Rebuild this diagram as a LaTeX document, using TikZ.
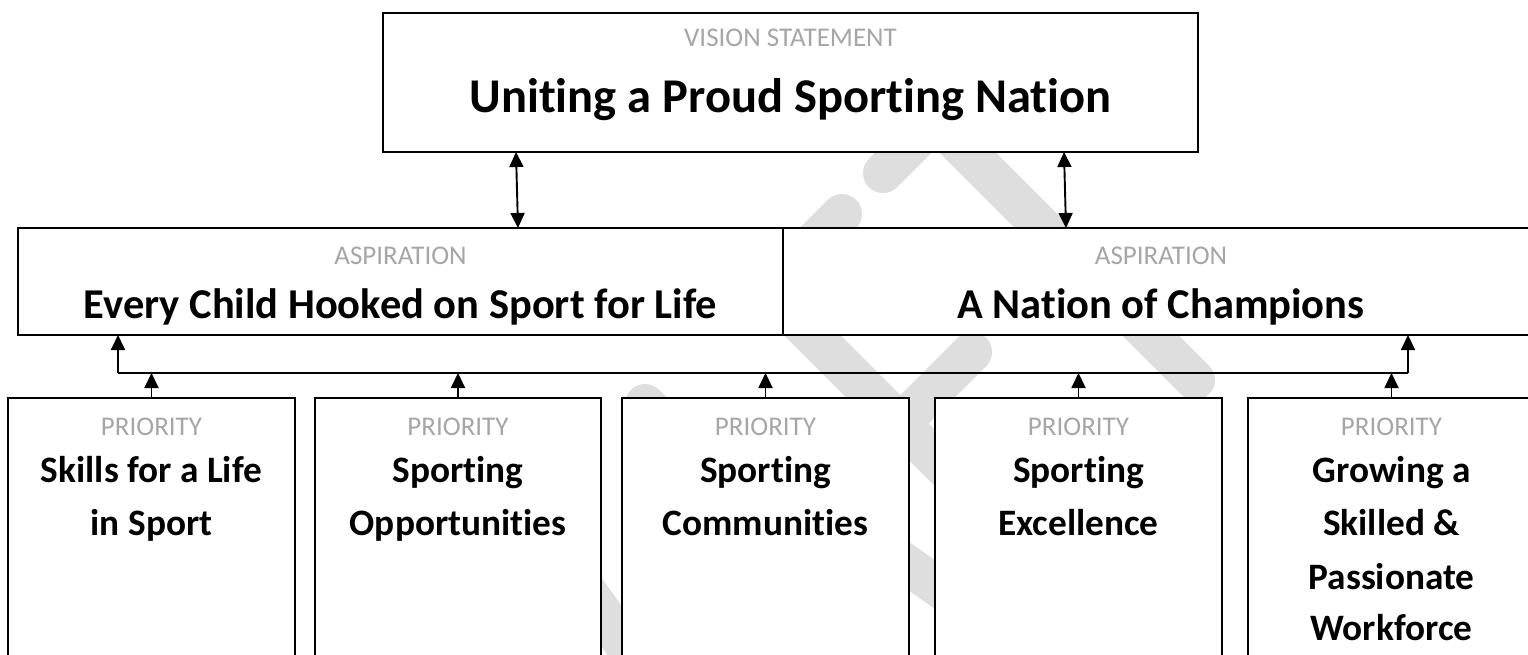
\documentclass[tikz,border=0pt]{standalone}
\usepackage{fontspec}
\setmainfont{Carlito}[Ligatures={NoCommon,NoContextual}]
\usetikzlibrary{arrows.meta,calc}
\definecolor{lblgray}{HTML}{A6A6A6}
\definecolor{wmgray}{HTML}{DEDEDE}
\begin{document}
\begin{tikzpicture}[x=1pt,y=-1pt,
  box/.style={draw=black,line width=1.9pt,fill=white,inner sep=0pt,outer sep=0pt,anchor=north west},
  lbl/.style={text=lblgray,font=\fontsize{27}{32}\selectfont,anchor=base,inner sep=0pt},
  ttl/.style={font=\bfseries\fontsize{48.5}{58}\selectfont,anchor=base,inner sep=0pt},
  asp/.style={font=\bfseries\fontsize{42.5}{50}\selectfont,anchor=base,inner sep=0pt},
  pri/.style={font=\bfseries\fontsize{37.3}{44}\selectfont,anchor=base,inner sep=0pt},
  arr/.style={line width=1.9pt,-{Triangle[length=15pt,width=14pt]}},
  dbl/.style={line width=1.9pt,{Triangle[length=15pt,width=14pt]}-{Triangle[length=15pt,width=14pt]}},
  wm/.style={draw=wmgray,line width=40pt,line cap=round}
]
\useasboundingbox (0,0) rectangle (1528,654);
\fill[white] (0,0) rectangle (1528,654);
% watermark
\draw[wm] (950,135) -- (1195,380);
\draw[wm] (937,119) -- (883,173);
\draw[wm] (770,286) -- (842,214);
\draw[wm] (780,303) -- (1000,523);
\draw[wm] (972,352) -- (850,474);
\draw[wm] (645,404) -- (760,519);
\draw[wm] (540,526) -- (680,722);
\draw[wm] (860,532) -- (1000,630);
% boxes
\node[box,minimum width=815pt,minimum height=139pt] (top) at (383,13) {};
\node[box,minimum width=765pt,minimum height=107pt] (asp1) at (18,228) {};
\node[box,minimum width=757pt,minimum height=107pt] (asp2) at (783,228) {};
\node[box,minimum width=287pt,minimum height=272pt] (p1) at (8,398) {};
\node[box,minimum width=286pt,minimum height=272pt] (p2) at (315,398) {};
\node[box,minimum width=287pt,minimum height=272pt] (p3) at (622,398) {};
\node[box,minimum width=287pt,minimum height=272pt] (p4) at (935,398) {};
\node[box,minimum width=287pt,minimum height=272pt] (p5) at (1248,398) {};
% texts
\node[lbl] (vlbl) at (790.5,46) {VISION STATEMENT};
\node[ttl] (vttl) at (790.5,112) {Uniting a Proud Sporting Nation};
\node[lbl] (a1lbl) at (400.5,264) {ASPIRATION};
\node[asp] (a1ttl) at (400.5,318) {Every Child Hooked on Sport for Life};
\node[lbl] (a2lbl) at (1161,264) {ASPIRATION};
\node[asp] (a2ttl) at (1161,318) {A Nation of Champions};
\node[lbl] (p1lbl) at (151.5,435) {PRIORITY};
\node[pri] (p1l1) at (151.5,482) {Skills for a Life};
\node[pri] (p1l2) at (151.5,535) {in Sport};
\node[lbl] (p2lbl) at (458,435) {PRIORITY};
\node[pri] (p2l1) at (458,482) {Sporting};
\node[pri] (p2l2) at (458,535) {Opportunities};
\node[lbl] (p3lbl) at (765.5,435) {PRIORITY};
\node[pri] (p3l1) at (765.5,482) {Sporting};
\node[pri] (p3l2) at (765.5,535) {Communities};
\node[lbl] (p4lbl) at (1078.5,435) {PRIORITY};
\node[pri] (p4l1) at (1078.5,482) {Sporting};
\node[pri] (p4l2) at (1078.5,535) {Excellence};
\node[lbl] (p5lbl) at (1391.5,435) {PRIORITY};
\node[pri] (p5l1) at (1391.5,482) {Growing a};
\node[pri] (p5l2) at (1391.5,535) {Skilled \&};
\node[pri] (p5l3) at (1391.5,589) {Passionate};
\node[pri] (p5l4) at (1391.5,640) {Workforce};
% connectors
\draw[dbl] ($(top.south west)+(133,0)$) -- ($(asp1.north west)+(500,0)$);
\draw[dbl] ($(top.south west)+(681,0)$) -- ($(asp2.north west)+(283,0)$);
\coordinate (busL) at (118,373);
\coordinate (busR) at (1408,373);
\draw[line width=1.9pt] (busL) -- (busR);
\draw[arr] (busL) -- (busL |- asp1.south);
\draw[arr] (busR) -- (busR |- asp2.south);
\foreach \p in {p1,p2,p3,p4,p5}{
  \draw[arr] (\p.north) -- (\p.north |- busL);
}
\end{tikzpicture}
\end{document}
